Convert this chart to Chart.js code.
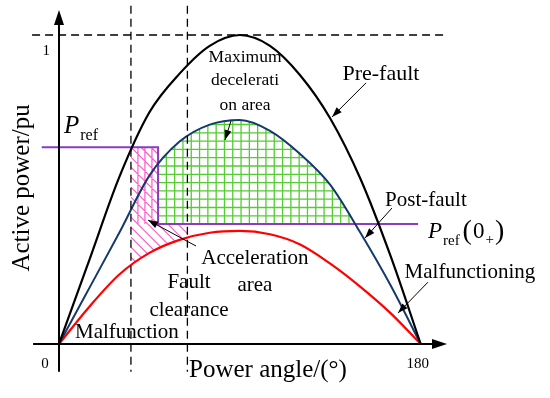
<!DOCTYPE html>
<html>
<head>
<meta charset="utf-8">
<script src="https://cdn.jsdelivr.net/npm/chart.js@4.4.0/dist/chart.umd.min.js"></script>
<style>
body{margin:0;background:#fff;}
#wrap{width:550px;height:398px;position:relative;}
</style>
</head>
<body>
<div id="wrap"><canvas id="powerChart"></canvas></div>
<script>
// power-angle curves (angle in degrees, power in pu)
var angles = [0,15,30,45,60,75,90,105,120,135,150,165,180];
var preFault = [0,0.27,0.54,0.75,0.875,0.965,1,0.965,0.87,0.73,0.535,0.285,0];
var postFault = [0,0.18,0.36,0.545,0.655,0.71,0.725,0.69,0.615,0.515,0.36,0.19,0];
var malFault = [0,0.12,0.225,0.295,0.337,0.36,0.366,0.355,0.322,0.26,0.185,0.1,0];

// reference power levels and switching angles
var pRef = 0.637, pRef0 = 0.388;
var deltaFault = 35.8, deltaSwitch = 49.3, deltaClear = 63.9;
var prefStart = -8.6, pref0End = 178.7;
var xTicks = [0,180];
var yTicks = [1];

function toPoints(xs, ys){
    var out = [];
    for (var i = 0; i < xs.length; i++) out.push({x: xs[i], y: ys[i]});
    return out;
}

function curvePath(ctx, line, chart){
    if (line && typeof line.path === 'function') {
        if (line.updateControlPoints) line.updateControlPoints(chart.chartArea, 'x');
        line.path(ctx);
    } else {
        var pts = line.points || [];
        ctx.moveTo(pts[0].x, pts[0].y);
        for (var i = 1; i < pts.length; i++) ctx.lineTo(pts[i].x, pts[i].y);
    }
}

var sketchPlugin = {
    id: 'sketch',
    beforeDatasetsDraw: function(chart){
        var ctx = chart.ctx, area = chart.chartArea;
        var px = function(v){ return chart.scales.x.getPixelForValue(v); };
        var py = function(v){ return chart.scales.y.getPixelForValue(v); };
        var postLine = chart.getDatasetMeta(1).dataset;
        var malLine = chart.getDatasetMeta(2).dataset;

        // green grid : deceleration area
        ctx.save();
        ctx.beginPath();
        curvePath(ctx, postLine, chart);
        ctx.closePath();
        ctx.clip();
        ctx.beginPath();
        ctx.rect(px(deltaSwitch), area.top, px(180) - px(deltaSwitch), py(pRef0) - area.top);
        ctx.clip();
        ctx.strokeStyle = '#55cc33';
        ctx.lineWidth = 1.3;
        ctx.beginPath();
        for (var gx = px(deltaSwitch); gx < px(180); gx += 8.3) {
            ctx.moveTo(gx, area.top); ctx.lineTo(gx, py(pRef0));
        }
        for (var gy = py(pRef0); gy > area.top; gy -= 8.3) {
            ctx.moveTo(px(deltaSwitch), gy); ctx.lineTo(px(180), gy);
        }
        ctx.stroke();
        ctx.restore();

        // pink hatch : acceleration area
        ctx.save();
        ctx.beginPath();
        curvePath(ctx, malLine, chart);
        ctx.lineTo(px(180), area.top);
        ctx.lineTo(px(0), area.top);
        ctx.closePath();
        ctx.clip();
        ctx.beginPath();
        ctx.moveTo(px(deltaFault), py(pRef));
        ctx.lineTo(px(deltaSwitch), py(pRef));
        ctx.lineTo(px(deltaSwitch), py(pRef0));
        ctx.lineTo(px(deltaClear), py(pRef0));
        ctx.lineTo(px(deltaClear), py(0));
        ctx.lineTo(px(deltaFault), py(0));
        ctx.closePath();
        ctx.clip();
        ctx.strokeStyle = '#ff55cc';
        ctx.lineWidth = 1.2;
        ctx.beginPath();
        var x0 = px(deltaFault) - 20, x1 = px(deltaClear) + 20;
        for (var c = -200; c < 300; c += 10) {
            ctx.moveTo(x0, py(pRef) + c);
            ctx.lineTo(x1, py(pRef) + c + (x1 - x0));
        }
        for (var vx = px(deltaFault) + 7; vx < px(deltaSwitch); vx += 7) {
            ctx.moveTo(vx, py(pRef)); ctx.lineTo(vx, py(pRef0));
        }
        ctx.stroke();
        ctx.restore();
    },
    afterDatasetsDraw: function(chart){
        var ctx = chart.ctx;
        var px = function(v){ return chart.scales.x.getPixelForValue(v); };
        var py = function(v){ return chart.scales.y.getPixelForValue(v); };
        var serif = '"Liberation Serif", "Times New Roman", serif';

        function arrowHead(x1, y1, x2, y2, len, wid){
            var a = Math.atan2(y2 - y1, x2 - x1);
            ctx.beginPath();
            ctx.moveTo(x2, y2);
            ctx.lineTo(x2 - len*Math.cos(a) + wid*Math.sin(a), y2 - len*Math.sin(a) - wid*Math.cos(a));
            ctx.lineTo(x2 - len*Math.cos(a) - wid*Math.sin(a), y2 - len*Math.sin(a) + wid*Math.cos(a));
            ctx.closePath();
            ctx.fill();
        }
        function arrow(a, b, c, d){
            var x1 = px(a), y1 = py(b), x2 = px(c), y2 = py(d);
            ctx.lineWidth = 1;
            ctx.beginPath(); ctx.moveTo(x1, y1); ctx.lineTo(x2, y2); ctx.stroke();
            arrowHead(x1, y1, x2, y2, 10, 3.5);
        }
        function text(s, x, y, size, align, style){
            ctx.font = (style || '') + ' ' + size + 'px ' + serif;
            ctx.textAlign = align || 'center';
            ctx.textBaseline = 'middle';
            ctx.fillText(s, px(x), py(y));
        }

        ctx.save();
        ctx.strokeStyle = '#000';
        ctx.fillStyle = '#000';

        // dashed guides
        ctx.lineWidth = 1.3;
        ctx.setLineDash([8, 5]);
        ctx.beginPath();
        ctx.moveTo(px(-13.4), py(1)); ctx.lineTo(px(193.1), py(1));
        ctx.moveTo(px(deltaFault), py(1.095)); ctx.lineTo(px(deltaFault), py(-0.09));
        ctx.moveTo(px(deltaClear), py(1.095)); ctx.lineTo(px(deltaClear), py(-0.09));
        ctx.stroke();
        ctx.setLineDash([]);

        // axes with arrows
        ctx.lineWidth = 2;
        ctx.beginPath();
        ctx.moveTo(px(0), py(-0.09)); ctx.lineTo(px(0), py(1.081) + 8);
        ctx.moveTo(px(-12.9), py(0)); ctx.lineTo(px(193.1) - 8, py(0));
        ctx.stroke();
        arrowHead(px(0), py(0.5), px(0), py(1.081), 15, 5);
        arrowHead(px(100), py(0), px(193.1), py(0), 15, 5);

        // tick labels
        ctx.font = '15px ' + serif;
        ctx.textBaseline = 'middle';
        ctx.textAlign = 'center';
        xTicks.forEach(function(v){
            ctx.fillText(String(v), px(v) - (v === 0 ? 14 : 3), py(0) + 20);
        });
        ctx.textAlign = 'right';
        yTicks.forEach(function(v){
            ctx.fillText(String(v), px(0) - 9, py(v) + 16);
        });

        // axis titles
        text('Power angle/(\u00b0)', 104, -0.087, 25);
        ctx.save();
        ctx.translate(px(-18.4), py(0.505));
        ctx.rotate(-Math.PI/2);
        ctx.font = '25px ' + serif;
        ctx.textAlign = 'center';
        ctx.textBaseline = 'middle';
        ctx.fillText('Active power/pu', 0, 0);
        ctx.restore();

        // P_ref label
        ctx.textBaseline = 'alphabetic';
        ctx.textAlign = 'left';
        var lx = px(2.5), ly = py(0.683);
        ctx.font = 'italic 25px ' + serif;
        ctx.fillText('P', lx, ly);
        lx += ctx.measureText('P').width + 1;
        ctx.font = '16px ' + serif;
        ctx.fillText('ref', lx, ly + 7);

        // P_ref(0+) label
        lx = px(183.6); ly = py(0.343);
        ctx.font = 'italic 23px ' + serif;
        ctx.fillText('P', lx, ly);
        lx += ctx.measureText('P').width + 1;
        ctx.font = '15px ' + serif;
        ctx.fillText('ref', lx, ly + 7);
        lx += ctx.measureText('ref').width + 3;
        ctx.font = '28px ' + serif;
        ctx.fillText('(', lx, ly + 1);
        lx += ctx.measureText('(').width + 1;
        ctx.font = '23px ' + serif;
        ctx.fillText('0', lx, ly);
        lx += ctx.measureText('0').width + 1;
        ctx.font = '15px ' + serif;
        ctx.fillText('+', lx, ly + 6);
        lx += ctx.measureText('+').width + 1;
        ctx.font = '28px ' + serif;
        ctx.fillText(')', lx, ly + 1);

        // annotations
        text('Pre-fault', 160.2, 0.874, 22);
        text('Maximum', 92.6, 0.926, 17.5);
        text('decelerati', 92.6, 0.854, 17.5);
        text('on area', 92.6, 0.773, 17.5);
        text('Post-fault', 182.6, 0.466, 21);
        text('Malfunctioning', 204.5, 0.233, 21);
        text('Acceleration', 97.5, 0.278, 21);
        text('area', 97.5, 0.188, 21);
        text('Fault', 64.7, 0.2, 21);
        text('clearance', 64.7, 0.11, 21);
        text('Malfunction', 33.8, 0.036, 21);

        arrow(152.8, 0.845, 135.9, 0.735);
        arrow(85.6, 0.722, 82.6, 0.66);
        arrow(165.7, 0.44, 152.3, 0.343);
        arrow(183.6, 0.2, 168.7, 0.1);
        arrow(68.2, 0.317, 44.3, 0.401);
        ctx.restore();
    }
};

var ctxD = document.getElementById('powerChart');
var powerChart = new Chart(ctxD, {
    type: 'line',
    data: {
        datasets: [
            {
                label: 'Pre-fault',
                data: toPoints(angles, preFault),
                borderColor: '#000000',
                borderWidth: 2.2,
                cubicInterpolationMode: 'monotone'
            },
            {
                label: 'Post-fault',
                data: toPoints(angles, postFault),
                borderColor: '#143a6b',
                borderWidth: 2,
                cubicInterpolationMode: 'monotone'
            },
            {
                label: 'Malfunctioning',
                data: toPoints(angles, malFault),
                borderColor: '#ff0000',
                borderWidth: 2.2,
                cubicInterpolationMode: 'monotone'
            },
            {
                label: 'Pref',
                data: [
                    {x: prefStart, y: pRef}, {x: deltaSwitch, y: pRef},
                    {x: deltaSwitch, y: pRef0}, {x: pref0End, y: pRef0}
                ],
                borderColor: '#8a3cc0',
                borderWidth: 2,
                tension: 0
            }
        ]
    },
    options: {
        responsive: true,
        maintainAspectRatio: false,
        animation: false,
        layout: {padding: 0},
        elements: {point: {radius: 0, hoverRadius: 0}},
        plugins: {legend: {display: false}, tooltip: {enabled: false}},
        scales: {
            x: {type: 'linear', min: -29.36, max: 244.35, display: false},
            y: {type: 'linear', min: -0.1748, max: 1.1133, display: false}
        }
    },
    plugins: [sketchPlugin]
});
</script>
</body>
</html>
